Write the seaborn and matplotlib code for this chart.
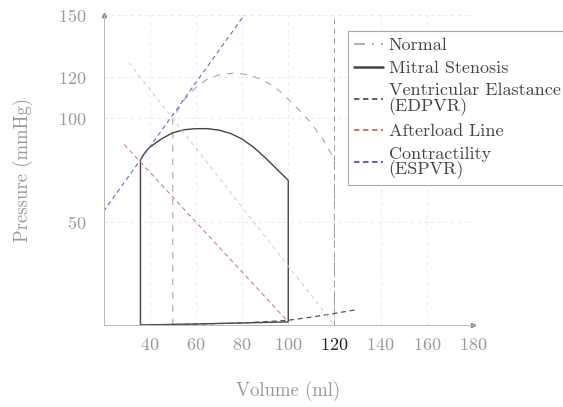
import matplotlib
matplotlib.use("Agg")
import matplotlib.pyplot as plt
from matplotlib.lines import Line2D
import seaborn as sns

# Normal PV loop (dashed grey)
normal_v = [50, 50, 55, 60, 65, 70, 77, 83, 88, 93, 97, 103, 109, 115, 120, 120]
normal_p = [0, 100, 109, 115, 119, 121, 122, 121, 119, 116, 112.5, 106, 99, 90, 80, 5.5]

# Mitral stenosis loop (solid)
mitral_v = [36, 36, 38, 40, 45, 50, 55, 60, 65, 70, 75, 80, 85, 90, 95, 100, 100, 80, 60, 36]
mitral_p = [0, 80, 83.5, 86, 90, 93, 94.5, 95, 95, 94.3, 92.7, 90, 86, 81, 75.5, 70, 1.5, 1.0, 0.5, 0]

# Ventricular elastance (EDPVR)
edpvr_v = [36, 50, 60, 70, 80, 90, 100, 110, 120, 130]
edpvr_p = [0, 0.2, 0.4, 0.7, 1.0, 1.6, 2.3, 3.8, 5.6, 7.5]

# Afterload lines
after_ms_v = [29, 100]
after_ms_p = [87.3, 1.5]
after_n_v = [31, 120]
after_n_p = [127, 0]

# Contractility (ESPVR)
espvr_v = [20, 81]
espvr_p = [55, 150]

labels = ["Normal", "Mitral Stenosis", "Ventricular Elastance\n(EDPVR)",
          "Afterload Line", "Contractility\n(ESPVR)"]
xticks = [40, 60, 80, 100, 120, 140, 160, 180]
yticks = [50, 100, 120, 150]

sns.set_theme(style="white")
plt.rcParams['font.family'] = ['cmr10', 'DejaVu Sans']
plt.rcParams['axes.formatter.use_mathtext'] = True

fig = plt.figure(figsize=(5.63, 4.07), dpi=100)
ax = fig.add_axes([103.5 / 563, 82 / 407, 369.5 / 563, 310 / 407])

# grid
for x in xticks:
    ax.axvline(x, color="#e6e6e6", lw=0.6, ls=(0, (4, 4)), zorder=0)
for y in yticks:
    ax.axhline(y, color="#e6e6e6", lw=0.6, ls=(0, (4, 4)), zorder=0)
ax.axvline(120, color="#9a9a9a", lw=0.7, ls=(0, (5, 5)), zorder=1)

common = dict(sort=False, estimator=None, ax=ax, legend=False)
sns.lineplot(x=normal_v, y=normal_p, color="#a8a8a8", lw=0.8,
             linestyle=(0, (6, 6)), **common)
sns.lineplot(x=mitral_v, y=mitral_p, color="#444444", lw=1.0, **common)
sns.lineplot(x=edpvr_v, y=edpvr_p, color="#555555", lw=0.9,
             linestyle=(0, (4, 3)), **common)
sns.lineplot(x=after_ms_v, y=after_ms_p, color="#d88080", lw=0.8,
             linestyle=(0, (4, 3)), **common)
sns.lineplot(x=after_n_v, y=after_n_p, color="#eec0c0", lw=0.7,
             linestyle=(0, (4, 4)), **common)
sns.lineplot(x=espvr_v, y=espvr_p, color="#6a6ac8", lw=0.8,
             linestyle=(0, (4, 3)), **common)

ax.set_xlim(20, 180)
ax.set_ylim(0, 150)
ax.set_xticks(xticks)
ax.set_yticks(yticks)
ax.tick_params(length=0, labelsize=13, colors="#999999")
ax.tick_params(axis="x", pad=9)
ax.tick_params(axis="y", pad=12)
ax.get_xticklabels()[4].set_color("#222222")

for s in ["top", "right"]:
    ax.spines[s].set_visible(False)
for s in ["left", "bottom"]:
    ax.spines[s].set_color("#bbbbbb")
    ax.spines[s].set_linewidth(0.7)
ax.plot(1, 0, ">", transform=ax.transAxes, clip_on=False, color="#888888", ms=3)
ax.plot(0, 1, "^", transform=ax.transAxes, clip_on=False, color="#888888", ms=3)

ax.set_xlabel("Volume (ml)", fontsize=13.5, color="#999999", labelpad=20)
ax.set_ylabel("Pressure (mmHg)", fontsize=13.5, color="#999999", labelpad=18)

handles = [
    Line2D([], [], color="#a8a8a8", lw=1.3, ls=(0, (6, 4, 1, 4))),
    Line2D([], [], color="#444444", lw=1.8),
    Line2D([], [], color="#555555", lw=1.3, ls=(0, (3, 2))),
    Line2D([], [], color="#d86060", lw=1.3, ls=(0, (3, 2))),
    Line2D([], [], color="#5050c0", lw=1.3, ls=(0, (3, 2))),
]
leg = ax.legend(handles, labels, loc="upper left", bbox_to_anchor=(0.662, 0.948),
                fontsize=13, frameon=True, fancybox=False, framealpha=1,
                edgecolor="#aaaaaa", handlelength=1.6, handletextpad=0.3,
                labelspacing=0.4, borderpad=0.35, borderaxespad=0)
leg.get_frame().set_linewidth(0.8)
for t in leg.get_texts():
    t.set_color("#444444")
    t.set_linespacing(0.92)

fig.savefig("out.png", dpi=100)
